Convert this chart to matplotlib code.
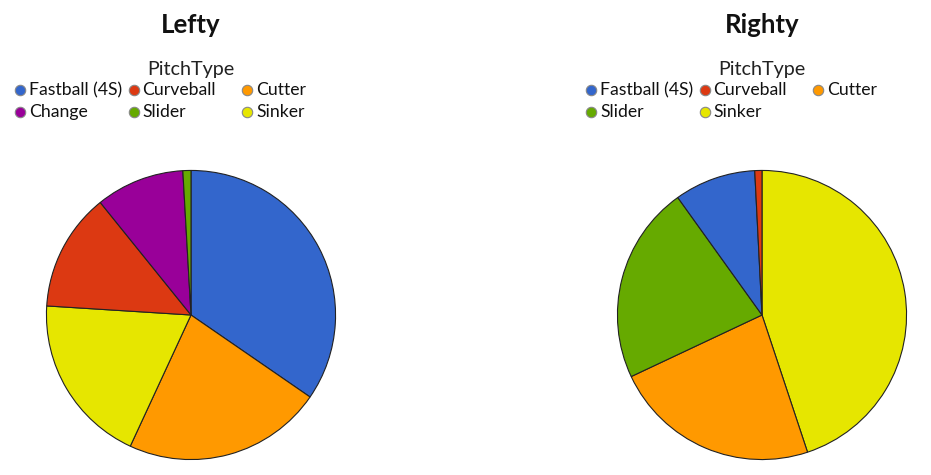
import matplotlib
matplotlib.use("Agg")
import matplotlib.pyplot as plt
from matplotlib.lines import Line2D

plt.rcParams['font.family'] = ['Lato', 'DejaVu Sans']

# pitch mix per batter side (% of pitches)
lefty_types = ["Fastball (4S)", "Cutter", "Sinker", "Curveball", "Change", "Slider"]
lefty_share = [34.6, 22.3, 19.1, 13.2, 9.9, 0.9]

righty_types = ["Sinker", "Cutter", "Slider", "Fastball (4S)", "Curveball"]
righty_share = [44.9, 23.1, 22.1, 9.1, 0.8]

# legend order as shown
lefty_legend = ["Fastball (4S)", "Curveball", "Cutter", "Change", "Slider", "Sinker"]
righty_legend = ["Fastball (4S)", "Curveball", "Cutter", "Slider", "Sinker"]

colors = {
    "Fastball (4S)": "#3366CC",
    "Curveball": "#DC3912",
    "Cutter": "#FF9900",
    "Change": "#990099",
    "Slider": "#66AA00",
    "Sinker": "#E6E600",
}

W, H = 931, 475
fig = plt.figure(figsize=(W / 100, H / 100), dpi=100)


def fx(px):
    return px / W


def fy(py):
    return 1 - py / H


def draw_panel(cx, title, types, share, legend_items):
    r = 146
    ax = fig.add_axes([fx(cx - r), fy(315 + r), 2 * r / W, 2 * r / H])
    ax.pie(share, colors=[colors[t] for t in types], startangle=90,
           counterclock=False, radius=1,
           wedgeprops=dict(edgecolor="#222222", linewidth=0.8))
    ax.set_xlim(-1.01, 1.01)
    ax.set_ylim(-1.01, 1.01)
    ax.set_aspect("equal")
    ax.axis("off")

    fig.text(fx(cx), fy(25), title, ha="center", va="center",
             fontsize=18.5, fontweight="bold", color="#111111")
    fig.text(fx(cx), fy(69), "PitchType", ha="center", va="center",
             fontsize=14.2, color="#222222")

    # legend grid: 3 columns, 2 rows
    left = cx - 171
    for i, name in enumerate(legend_items):
        col, row = i % 3, i // 3
        mx = left + col * 113.5
        my = 90 + row * 22
        fig.add_artist(Line2D([fx(mx)], [fy(my)], marker="o", markersize=7.5,
                              markerfacecolor=colors[name],
                              markeredgecolor="#888888", markeredgewidth=0.8,
                              linestyle="none", transform=fig.transFigure))
        fig.text(fx(mx + 9), fy(my), name, ha="left", va="center",
                 fontsize=12.7, color="#111111")


draw_panel(191, "Lefty", lefty_types, lefty_share, lefty_legend)
draw_panel(762, "Righty", righty_types, righty_share, righty_legend)

fig.savefig("out.png", dpi=100, facecolor="white")
